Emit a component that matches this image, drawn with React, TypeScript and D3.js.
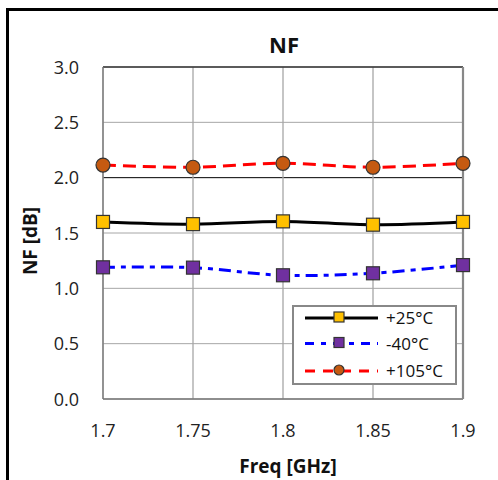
import React from "react";
import * as d3 from "d3";

const freqs = [1.7, 1.75, 1.8, 1.85, 1.9];
const xTicks = ["1.7", "1.75", "1.8", "1.85", "1.9"];
const yTicks = [0, 0.5, 1.0, 1.5, 2.0, 2.5, 3.0];
const nf25 = [1.6, 1.58, 1.605, 1.575, 1.6];
const nfM40 = [1.19, 1.187, 1.118, 1.136, 1.21];
const nf105 = [2.114, 2.094, 2.13, 2.094, 2.13];
const seriesNames = ["+25°C", "-40°C", "+105°C"];

const FONT = "'Open Sans', 'Liberation Sans', sans-serif";

export default function App() {
  const W = 498, H = 480;
  const left = 103, right = 463, top = 67, bottom = 399;
  const x = d3.scaleLinear().domain([1.7, 1.9]).range([left, right]);
  const y = d3.scaleLinear().domain([0, 3]).range([bottom, top]);
  const line = d3
    .line<number>()
    .x((_, i) => x(freqs[i]))
    .y((d) => y(d))
    .curve(d3.curveCatmullRom.alpha(0.5));

  const series = [
    { name: seriesNames[0], data: nf25, color: "#000000", dash: "", marker: "square", fill: "#FFC000" },
    { name: seriesNames[1], data: nfM40, color: "#0000FF", dash: "12,6,5,6", marker: "square", fill: "#7030A0" },
    { name: seriesNames[2], data: nf105, color: "#FF0000", dash: "13,7", marker: "circle", fill: "#C55A11" },
  ];

  const marker = (s: any, cx: number, cy: number, size: number, key: any) =>
    s.marker === "square" ? (
      <rect key={key} x={cx - size / 2} y={cy - size / 2} width={size} height={size} fill={s.fill} stroke="#333" strokeWidth={1.2} />
    ) : (
      <circle key={key} cx={cx} cy={cy} r={size / 2} fill={s.fill} stroke="#333" strokeWidth={1.2} />
    );

  const legendRows = [318, 343.5, 371];

  return (
    <svg width={W} height={H} style={{ position: "absolute", left: 0, top: 0 }}>
      <rect x={0} y={0} width={W} height={H} fill="#fff" />
      <rect x={7.5} y={9.5} width={W + 10} height={H + 10} fill="none" stroke="#000" strokeWidth={3} />
      {yTicks.map((t) => (
        <line key={"h" + t} x1={left} x2={right} y1={y(t)} y2={y(t)} stroke={t === 2 ? "#000" : "#A6A6A6"} strokeWidth={1} />
      ))}
      {freqs.map((f) => (
        <line key={"v" + f} x1={x(f)} x2={x(f)} y1={top} y2={bottom} stroke="#A6A6A6" strokeWidth={1.3} />
      ))}
      <line x1={left} x2={right} y1={top} y2={top} stroke="#333" strokeWidth={1.3} />
      <line x1={left} x2={left} y1={top} y2={bottom} stroke="#777" strokeWidth={1.3} />
      <line x1={left} x2={right} y1={bottom} y2={bottom} stroke="#777" strokeWidth={1.3} />
      <line x1={right} x2={right} y1={top} y2={bottom} stroke="#888" strokeWidth={2.2} />
      {series.map((s) => (
        <path key={s.name} d={line(s.data) || ""} fill="none" stroke={s.color} strokeWidth={3} strokeDasharray={s.dash} />
      ))}
      {series.map((s) => s.data.map((v, i) => marker(s, x(freqs[i]), y(v), s.marker === "square" ? 13 : 14, s.name + i)))}
      {yTicks.map((t) => (
        <text key={"yt" + t} x={79} y={y(t) + 6.5} textAnchor="end" fontFamily={FONT} fontSize={18} fill="#222">
          {t.toFixed(1)}
        </text>
      ))}
      {freqs.map((f, i) => (
        <text key={"xt" + f} x={x(f)} y={437} textAnchor="middle" fontFamily={FONT} fontSize={18} fill="#222">
          {xTicks[i]}
        </text>
      ))}
      <text x={284} y={53} textAnchor="middle" fontFamily={FONT} fontWeight="bold" fontSize={22} fill="#111">NF</text>
      <text x={288} y={473} textAnchor="middle" fontFamily={FONT} fontWeight="bold" fontSize={19} fill="#111">Freq [GHz]</text>
      <text transform={`translate(37,241) rotate(-90)`} textAnchor="middle" fontFamily={FONT} fontWeight="bold" fontSize={19} fill="#111">NF [dB]</text>
      <rect x={293} y={306} width={163} height={78} fill="#fff" stroke="#888" strokeWidth={2} />
      {series.map((s, i) => (
        <g key={"lg" + i}>
          <line x1={305} x2={378} y1={legendRows[i]} y2={legendRows[i]} stroke={s.color} strokeWidth={3} strokeDasharray={s.dash ? (i === 1 ? "9,7,5,7" : "10,8") : ""} />
          {marker(s, 339, legendRows[i] - 1, 10, "lm" + i)}
          <text x={386} y={legendRows[i] + 6} fontFamily={FONT} fontSize={17} fill="#111">{s.name}</text>
        </g>
      ))}
    </svg>
  );
}
